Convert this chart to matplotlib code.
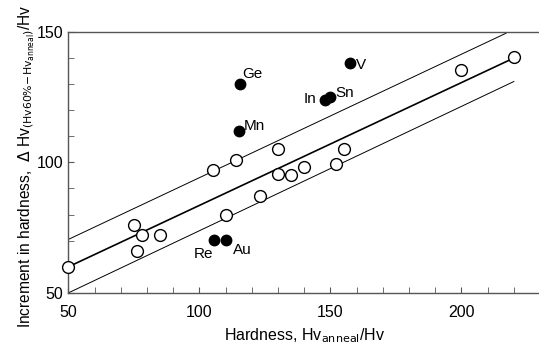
import matplotlib.pyplot as plt
from matplotlib.ticker import MultipleLocator

plt.rcParams['font.family'] = ['Liberation Sans', 'DejaVu Sans']

# open circles (reference alloys)
open_x = [50, 75, 76, 78, 85, 105, 110, 114, 123, 130, 130, 135, 140, 152, 155, 200, 220]
open_y = [60, 76, 66, 72, 72, 97, 80, 101, 87, 105, 95.5, 95, 98.4, 99.3, 105, 135.4, 140.2]

# filled circles (labelled elements)
elem_names = ['Ge', 'Mn', 'V', 'In', 'Sn', 'Re', 'Au']
elem_x = [115.3, 115.1, 157.6, 147.8, 150, 105.5, 110.3]
elem_y = [130, 112.2, 138.2, 124, 125.1, 70.3, 70.3]
# label offsets in pixels (baseline), and alignment
elem_off = [(3, 6), (5, 1), (6, -6), (-8, -3), (5, 0), (-1, -18), (7, -14)]
elem_ha = ['left', 'left', 'left', 'right', 'left', 'right', 'left']

# fit line and band
fit_x = [50, 220]
fit_y = [60, 140]
upper_x = [50, 217]
upper_y = [70.5, 149.5]
lower_x = [50, 220]
lower_y = [50, 131]

fig = plt.figure(figsize=(5.39, 3.47), dpi=100)
ax = fig.add_axes([0.127, 0.156, 0.875, 0.752])

ax.plot(fit_x, fit_y, color='black', lw=1.2, zorder=2)
ax.plot(upper_x, upper_y, color='black', lw=0.7, zorder=2)
ax.plot(lower_x, lower_y, color='black', lw=0.7, zorder=2)

ax.plot(open_x, open_y, 'o', mfc='white', mec='black', mew=1.0, ms=8.5,
        ls='none', zorder=3, clip_on=False)
ax.plot(elem_x, elem_y, 'o', color='black', ms=7.5, ls='none', zorder=3)

for name, x, y, off, ha in zip(elem_names, elem_x, elem_y, elem_off, elem_ha):
    ax.annotate(name, (x, y), xytext=off, textcoords='offset pixels',
                fontsize=11, ha=ha, va='baseline')

ax.set_xlim(50, 230)
ax.set_ylim(50, 150)
ax.xaxis.set_major_locator(MultipleLocator(50))
ax.xaxis.set_minor_locator(MultipleLocator(10))
ax.yaxis.set_major_locator(MultipleLocator(50))
ax.yaxis.set_minor_locator(MultipleLocator(10))
ax.tick_params(which='both', direction='in', labelsize=11.5, color='#555555', length=4)
ax.tick_params(axis='x', which='both', pad=9)
ax.tick_params(axis='y', which='both', pad=4)
ax.spines['right'].set_visible(False)
for s in ['left', 'bottom', 'top']:
    ax.spines[s].set_color('#555555')
    ax.spines[s].set_linewidth(1.0)

ax.set_xlabel(r'Hardness, Hv$_{\mathrm{anneal}}$/Hv', fontsize=11.5, labelpad=4)
ax.set_ylabel(r'Increment in hardness,  $\Delta$ Hv$_{\mathrm{(Hv60\%\!-\!Hv_{anneal})}}$/Hv',
              fontsize=11.2)
ax.yaxis.set_label_coords(-0.067, 0.485)

fig.savefig('out.png', dpi=100)
